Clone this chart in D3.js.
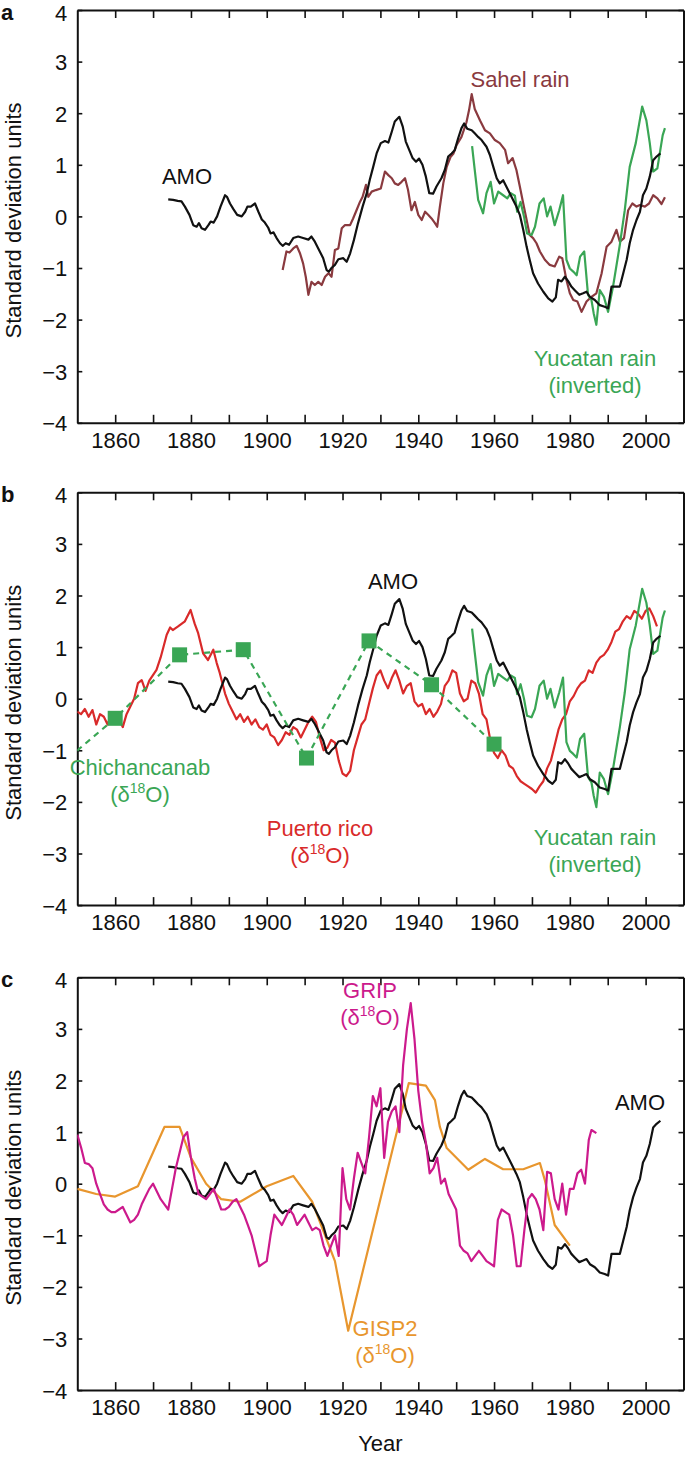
<!DOCTYPE html>
<html><head><meta charset="utf-8">
<script src="https://cdn.jsdelivr.net/npm/d3@7"></script>
<style>
html,body{margin:0;padding:0;background:#fff;}
svg{display:block;font-family:"Liberation Sans",Arial,Helvetica,sans-serif;}
</style></head>
<body><svg id="chart" width="685" height="1458"></svg>
<script>
// ---------- data ----------
const xTickYears = [1860,1870,1880,1890,1900,1910,1920,1930,1940,1950,1960,1970,1980,1990,2000];
const yTicks = [-4,-3,-2,-1,0,1,2,3,4];

const amo = [[1874,0.33],[1875.3,0.32],[1876.5,0.30],[1877.5,0.29],[1878.4,0.19],[1879.6,0.03],[1880.6,-0.17],[1881.5,-0.20],[1882.1,-0.13],[1882.8,-0.23],[1883.7,-0.26],[1884.6,-0.17],[1885.2,-0.10],[1886,-0.12],[1886.9,0.0],[1887.8,0.19],[1889,0.41],[1889.5,0.38],[1890.3,0.25],[1891.2,0.14],[1892.2,0.03],[1893.4,0.0],[1894.3,0.09],[1894.9,0.19],[1895.8,0.19],[1896.9,0.25],[1897.8,0.09],[1898.7,-0.06],[1899.5,-0.12],[1900.4,-0.22],[1901,-0.33],[1901.8,-0.31],[1902.6,-0.42],[1903.5,-0.52],[1904.2,-0.57],[1905,-0.52],[1905.9,-0.55],[1907,-0.42],[1908.3,-0.39],[1909.6,-0.42],[1911,-0.45],[1911.8,-0.39],[1912.7,-0.49],[1913.6,-0.62],[1914.9,-0.81],[1915.8,-1.04],[1916.4,-1.07],[1917.1,-1.0],[1918,-0.94],[1918.9,-0.83],[1920.2,-0.81],[1921.1,-0.88],[1922,-0.72],[1923,-0.46],[1924.1,-0.13],[1925.3,0.19],[1926.4,0.45],[1927.2,0.71],[1928.1,0.96],[1929,1.22],[1930.1,1.42],[1931.2,1.46],[1932.1,1.43],[1933,1.64],[1933.8,1.84],[1935,1.93],[1935.9,1.74],[1936.7,1.45],[1937.6,1.29],[1938.5,1.13],[1939.4,1.06],[1940.2,1.12],[1941.1,1.0],[1942,0.77],[1942.9,0.45],[1943.9,0.44],[1944.8,0.58],[1946.1,0.74],[1947,0.90],[1947.9,1.16],[1948.8,1.22],[1949.6,1.28],[1950.5,1.51],[1951.4,1.71],[1952.1,1.80],[1952.9,1.70],[1954.1,1.67],[1954.9,1.61],[1955.8,1.54],[1956.7,1.48],[1958,1.35],[1958.9,1.19],[1959.8,0.96],[1960.7,0.74],[1961.5,0.64],[1962.4,0.70],[1963.5,0.54],[1964.6,0.38],[1965.9,0.19],[1966.8,0.03],[1967.7,-0.26],[1968.6,-0.59],[1969.4,-0.84],[1970.3,-1.10],[1971.6,-1.30],[1973,-1.46],[1974.3,-1.59],[1975.4,-1.65],[1976.3,-1.57],[1976.9,-1.23],[1977.8,-1.26],[1978.7,-1.17],[1979.6,-1.26],[1980.4,-1.36],[1981.3,-1.43],[1982.5,-1.52],[1983.5,-1.49],[1984.4,-1.46],[1985.3,-1.56],[1986.6,-1.62],[1987.9,-1.72],[1989.2,-1.75],[1990.1,-1.78],[1991,-1.36],[1992.3,-1.36],[1993.2,-1.36],[1994.1,-1.10],[1995,-0.84],[1995.8,-0.52],[1996.7,-0.26],[1997.6,-0.07],[1998.5,0.09],[1999.3,0.41],[2000.2,0.54],[2001.1,0.77],[2002,1.09],[2002.9,1.16],[2003.9,1.22]];

const sahel = [[1904.2,-1.04],[1905.2,-0.68],[1906,-0.70],[1907,-0.62],[1907.9,-0.57],[1908.8,-0.72],[1909.6,-0.91],[1910.3,-1.17],[1911,-1.52],[1911.8,-1.27],[1912.7,-1.33],[1913.6,-1.27],[1914.5,-1.33],[1915.4,-1.17],[1916.3,-1.10],[1917.1,-1.17],[1918,-0.65],[1918.9,-0.62],[1919.8,-0.23],[1920.6,-0.17],[1922,-0.17],[1922.8,-0.04],[1923.7,0.12],[1924.6,0.28],[1925.3,0.38],[1926.2,0.61],[1926.8,0.38],[1927.7,0.48],[1928.8,0.51],[1930.1,0.54],[1931.2,0.87],[1932.1,0.80],[1933,0.74],[1933.8,0.64],[1934.7,0.61],[1935.6,0.67],[1936.5,0.74],[1937.3,0.51],[1938.2,0.12],[1939.1,0.28],[1940,0.03],[1940.9,-0.07],[1941.8,0.09],[1942.6,0.03],[1943.5,-0.04],[1944.4,-0.13],[1945,-0.20],[1945.7,0.19],[1946.6,0.64],[1947.5,0.96],[1948.5,1.15],[1949.3,1.22],[1950.1,1.38],[1951.4,1.54],[1952.7,1.82],[1953.4,2.06],[1954.1,2.37],[1954.9,2.08],[1956.3,1.86],[1957.6,1.67],[1958.9,1.61],[1960.2,1.48],[1961.5,1.42],[1962.9,1.29],[1963.7,1.03],[1964.9,1.13],[1965.9,0.90],[1966.8,0.58],[1967.7,0.25],[1968.6,-0.07],[1969.4,-0.36],[1970.3,-0.42],[1971.2,-0.52],[1972.1,-0.68],[1973.4,-0.84],[1974.7,-0.94],[1976,-0.97],[1977.2,-0.78],[1978,-0.81],[1979.1,-1.23],[1980,-1.49],[1980.9,-1.62],[1982,-1.65],[1983.1,-1.85],[1984.4,-1.65],[1985.7,-1.56],[1987,-1.49],[1988.4,-1.10],[1989.7,-0.59],[1991,-0.49],[1992.3,-0.26],[1993.2,-0.49],[1994.3,-0.42],[1995.4,0.12],[1996.5,0.25],[1997.6,0.19],[1998.5,0.22],[1999.8,0.19],[2000.9,0.25],[2002,0.41],[2003.1,0.35],[2004.2,0.24],[2005.1,0.37]];

const yucatan = [[1954.2,1.36],[1954.9,0.90],[1955.8,0.32],[1957.1,0.06],[1958,0.45],[1959.1,0.67],[1960,0.25],[1961.1,0.48],[1962.4,0.41],[1963.5,0.35],[1964.4,0.45],[1965.5,0.40],[1966.1,0.09],[1967,0.28],[1967.9,0.0],[1968.7,-0.33],[1969.9,-0.36],[1970.8,-0.20],[1972,0.25],[1973.1,0.35],[1974,0.0],[1974.9,0.19],[1976,-0.17],[1977.2,0.12],[1978.2,0.41],[1979.1,-0.84],[1980,-1.01],[1980.9,-1.07],[1981.8,-1.14],[1982.7,-0.78],[1983.8,-0.68],[1984.8,-1.52],[1985.7,-1.62],[1986.3,-1.88],[1987,-2.10],[1987.9,-1.43],[1989,-1.56],[1990.1,-1.85],[1991.4,-1.36],[1993.2,-0.55],[1994.5,0.12],[1995.8,0.96],[1997.4,1.42],[1999.1,2.13],[2000.2,1.86],[2001.1,1.42],[2002,0.87],[2003.1,0.93],[2003.8,1.25],[2004.5,1.57],[2005.1,1.71]];

const puertoRico = [[1850,-0.25],[1851,-0.3],[1852,-0.2],[1853,-0.35],[1854,-0.22],[1855,-0.5],[1856,-0.3],[1857,-0.35],[1858,-0.5],[1859,-0.3],[1860,-0.38],[1861,-0.4],[1862,-0.55],[1863,-0.3],[1864,-0.15],[1865,0.0],[1866,0.3],[1867,0.36],[1868,0.15],[1869,0.35],[1870.9,0.56],[1872,0.8],[1873.6,1.24],[1874.5,1.38],[1875.2,1.33],[1876.6,1.40],[1878.4,1.5],[1879.9,1.72],[1881,1.45],[1881.9,1.27],[1883.2,0.88],[1884.5,0.75],[1885.9,0.95],[1886.8,0.69],[1887.6,0.5],[1889,0.1],[1890,-0.1],[1891,-0.25],[1892,-0.4],[1893,-0.3],[1894,-0.45],[1895,-0.35],[1896,-0.5],[1897,-0.4],[1898,-0.55],[1899,-0.6],[1900,-0.5],[1901,-0.7],[1902,-0.75],[1903,-0.9],[1904,-0.8],[1905,-0.65],[1906,-0.7],[1907,-0.55],[1908,-0.6],[1909,-0.75],[1910,-0.6],[1911,-0.45],[1912,-0.35],[1913,-0.45],[1914,-0.75],[1915,-1.0],[1916,-0.95],[1917,-0.8],[1918,-0.85],[1919,-1.2],[1920,-1.45],[1921,-1.5],[1922,-1.4],[1923,-1.0],[1924,-0.75],[1925,-0.5],[1926,-0.4],[1927,-0.1],[1928,0.2],[1929,0.45],[1930,0.55],[1931,0.35],[1932,0.2],[1933,0.4],[1934,0.55],[1935,0.35],[1936,0.1],[1937,0.25],[1938,0.3],[1939,-0.05],[1940,-0.15],[1941,-0.1],[1942,-0.3],[1943,-0.2],[1944,-0.35],[1945,-0.25],[1946,-0.1],[1947,0.25],[1948,0.35],[1949,0.55],[1950,0.5],[1951,0.1],[1952,-0.05],[1953,0.0],[1954,0.35],[1955,0.3],[1956,0.1],[1957,-0.3],[1958,-0.4],[1959,-0.8],[1960,-1.05],[1961,-1.15],[1962,-1.0],[1963,-1.1],[1964,-1.3],[1965,-1.35],[1966,-1.5],[1967,-1.6],[1968,-1.65],[1969,-1.7],[1970,-1.75],[1971,-1.82],[1972,-1.7],[1973,-1.6],[1974,-1.35],[1975,-1.2],[1976,-0.9],[1977,-0.6],[1978,-0.4],[1979,-0.3],[1980,-0.05],[1981,0.05],[1982,0.2],[1983,0.3],[1984,0.35],[1985,0.55],[1986,0.5],[1987,0.7],[1988,0.8],[1989,0.85],[1990,0.95],[1991,1.1],[1992,1.3],[1993,1.35],[1994,1.5],[1995,1.6],[1996,1.55],[1997,1.7],[1998,1.65],[1999,1.55],[2000,1.7],[2001,1.75],[2002,1.6],[2003,1.4]];

const chichancanab = [[1843.3,-1.42],[1860,-0.38],[1877,0.85],[1893.8,0.95],[1910.5,-1.15],[1927,1.12],[1943.5,0.27],[1960,-0.88]];

const grip = [[1850,0.95],[1851,0.7],[1852,0.4],[1853,0.38],[1854,0.3],[1855,0.0],[1856,-0.2],[1857,-0.4],[1858,-0.5],[1859,-0.55],[1860,-0.55],[1861,-0.5],[1862,-0.45],[1863,-0.6],[1864,-0.75],[1865,-0.7],[1866,-0.6],[1867,-0.4],[1868,-0.25],[1869,-0.1],[1870,0.0],[1871,-0.15],[1872,-0.3],[1873,-0.4],[1874,-0.5],[1875,-0.1],[1876,0.3],[1877,0.6],[1878,0.9],[1879,1.0],[1880,0.5],[1881,0.1],[1882,-0.2],[1883,-0.25],[1884,-0.3],[1885,-0.2],[1886,-0.1],[1887,-0.3],[1888,-0.5],[1889,-0.5],[1890,-0.45],[1891,-0.35],[1892,-0.3],[1893,-0.45],[1894,-0.6],[1895,-0.8],[1896,-1.0],[1897,-1.3],[1898,-1.6],[1899,-1.55],[1900,-1.5],[1901,-1.0],[1902,-0.6],[1903,-0.7],[1904,-0.8],[1905,-0.65],[1906,-0.5],[1907,-0.6],[1908,-0.8],[1909,-0.7],[1910,-0.6],[1911,-0.75],[1912,-0.9],[1913,-0.85],[1914,-0.9],[1915,-1.2],[1916,-1.4],[1917,-1.2],[1918,-1.0],[1919,-1.4],[1920,0.3],[1921,-0.3],[1922,-0.5],[1923,0.1],[1924,0.6],[1925,0.4],[1926,0.2],[1927,0.9],[1928,1.7],[1929,1.5],[1930,1.85],[1931,0.5],[1932,1.2],[1933,1.4],[1934,1.5],[1935,1.0],[1936,2.3],[1937,3.0],[1938,3.5],[1939,2.8],[1940,1.8],[1941,1.2],[1942,0.8],[1943,0.2],[1944,0.3],[1945,0.5],[1946,0.0],[1947,0.1],[1948,-0.2],[1949,-0.35],[1950,-0.5],[1951,-1.2],[1952,-1.3],[1953,-1.35],[1954,-1.5],[1955,-1.4],[1956,-1.3],[1957,-1.4],[1958,-1.5],[1959,-1.55],[1960,-1.6],[1961,-0.7],[1962,-0.5],[1963,-0.55],[1964,-0.6],[1965,-1.0],[1966,-1.6],[1967,-1.6],[1968,-0.9],[1969,-0.3],[1970,-0.2],[1971,-0.3],[1972,-0.5],[1973,-0.9],[1974,0.23],[1975,0.2],[1976,-0.3],[1977,-0.5],[1978,0.0],[1979,-0.6],[1980,-0.1],[1981,-0.1],[1982,0.2],[1983,0.27],[1984,0.0],[1985,0.85],[1985.7,1.04],[1987,0.98]];

const gisp2 = [[1850,-0.1],[1855,-0.2],[1860,-0.25],[1866,-0.05],[1873,1.1],[1877,1.1],[1880,0.5],[1884,0.0],[1888,-0.3],[1893,-0.35],[1900,-0.05],[1907,0.15],[1912,-0.35],[1918,-1.5],[1921.5,-2.85],[1937.5,1.95],[1942,1.9],[1944.4,1.62],[1945.7,1.10],[1947.5,0.69],[1953.2,0.27],[1957.6,0.48],[1962.4,0.28],[1967.7,0.28],[1972.1,0.40],[1973.4,0.07],[1976,-0.8],[1980,-1.2]];

// ---------- layout ----------
const left = 77.3, right = 683.5;
const panelTops = [10, 492.3, 977.3];
const panelH = 412.8;
const font = '"Liberation Sans",Arial,Helvetica,sans-serif';
const C = {amo:"#111111", sahel:"#8a3a3f", yuc:"#3aa655", pr:"#d92a2a", grip:"#cc1a8c", gisp:"#e8962e"};

const svg = d3.select("#chart");
const x = d3.scaleLinear().domain([1850,2010]).range([left,right]);

function panel(i, letter){
  const top = panelTops[i];
  const y = d3.scaleLinear().domain([-4,4]).range([top+panelH, top]);
  const g = svg.append("g");
  const cid = "clip"+i;
  svg.append("clipPath").attr("id",cid).append("rect")
    .attr("x",left).attr("y",top).attr("width",right-left).attr("height",panelH);
  const ax = (sel)=>{ sel.selectAll("text").attr("font-family",font).attr("font-size",22).attr("fill","#111");
    sel.selectAll("line").attr("stroke","#111").attr("stroke-width",1.6);
    sel.select(".domain").attr("stroke","#111").attr("stroke-width",2); };
  g.append("g").attr("transform",`translate(0,${top+panelH})`)
    .call(d3.axisBottom(x).tickValues(xTickYears).tickSize(-8).tickSizeOuter(0).tickPadding(9)
      .tickFormat(d=> d%20===0 ? String(d) : ""))
    .call(ax).call(s=>s.selectAll("text").attr("dy","0.74em"));
  g.append("g").attr("transform",`translate(0,${top})`)
    .call(d3.axisTop(x).tickValues(xTickYears).tickSize(-8).tickSizeOuter(0).tickFormat(""))
    .call(ax);
  g.append("g").attr("transform",`translate(${left},0)`)
    .call(d3.axisLeft(y).tickValues(yTicks).tickSize(-5).tickSizeOuter(0).tickPadding(10))
    .call(ax).call(s=>s.selectAll("text").attr("dy", d=> d===4 ? "0.46em" : "0.36em"));
  g.append("g").attr("transform",`translate(${right},0)`)
    .call(d3.axisRight(y).tickValues(yTicks).tickSize(-5).tickSizeOuter(0).tickFormat(""))
    .call(ax);
  svg.append("text").attr("transform",`translate(21,${top+panelH/2+4}) rotate(-90)`)
    .attr("text-anchor","middle").attr("font-family",font).attr("font-size",22).attr("fill","#111")
    .text("Standard deviation units");
  svg.append("text").attr("x",1).attr("y",top+10).attr("font-family",font).attr("font-weight","bold")
    .attr("font-size",22).attr("fill","#111").text(letter);
  const plot = svg.append("g").attr("clip-path",`url(#${cid})`);
  return {y, plot};
}

function drawLine(p, data, color, dash){
  const line = d3.line().x(d=>x(d[0])).y(d=>p.y(d[1]));
  p.plot.append("path").datum(data).attr("d",line).attr("fill","none")
    .attr("stroke",color).attr("stroke-width",2.2).attr("stroke-linejoin","round")
    .attr("stroke-dasharray",dash||null);
}
function label(lines, cx, by, color){
  lines.forEach((ln,k)=>{
    const t = svg.append("text").attr("x",cx).attr("y",by+k*26.5).attr("text-anchor","middle")
      .attr("font-family",font).attr("font-size",22).attr("fill",color);
    if (ln === "d18O"){
      t.append("tspan").text("(δ");
      t.append("tspan").attr("font-size",14).attr("dy",-9).text("18");
      t.append("tspan").attr("dy",9).text("O)");
    } else t.text(ln);
  });
}

// Panel a
const pa = panel(0,"a");
drawLine(pa, sahel, C.sahel);
drawLine(pa, yucatan, C.yuc);
drawLine(pa, amo, C.amo);
label(["AMO"],187,184,C.amo);
label(["Sahel rain"],520,87,C.sahel);
label(["Yucatan rain","(inverted)"],595,366,C.yuc);

// Panel b
const pb = panel(1,"b");
drawLine(pb, puertoRico, C.pr);
drawLine(pb, yucatan, C.yuc);
drawLine(pb, amo, C.amo);
drawLine(pb, chichancanab, C.yuc, "6,5");
pb.plot.selectAll("rect.sq").data(chichancanab).enter().append("rect").attr("class","sq")
  .attr("x",d=>x(d[0])-7.5).attr("y",d=>pb.y(d[1])-7.5).attr("width",15).attr("height",15)
  .attr("fill",C.yuc);
label(["AMO"],393,589,C.amo);
label(["Chichancanab","d18O"],140,775,C.yuc);
label(["Puerto rico","d18O"],320,836,C.pr);
label(["Yucatan rain","(inverted)"],595,845,C.yuc);

// Panel c
const pc = panel(2,"c");
drawLine(pc, gisp2, C.gisp);
drawLine(pc, amo, C.amo);
drawLine(pc, grip, C.grip);
label(["GRIP","d18O"],370,998,C.grip);
label(["AMO"],640,1110,C.amo);
label(["GISP2","d18O"],385,1336,C.gisp);
svg.append("text").attr("x",(left+right)/2).attr("y",1451).attr("text-anchor","middle")
  .attr("font-family",font).attr("font-size",22).attr("fill","#111").text("Year");
</script></body></html>
